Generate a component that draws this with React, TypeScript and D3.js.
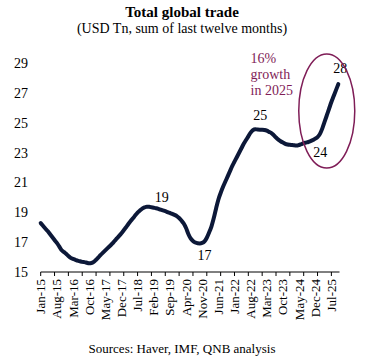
import React, { useEffect, useRef } from 'react';
import * as d3 from 'd3';

// trailing 12m sum of global trade, USD Tn, Jan-15 .. Oct-25
const trade2015 = [18.28, 18.10, 17.92, 17.75, 17.55, 17.35, 17.15, 16.95, 16.72, 16.48, 16.35, 16.22];
const trade2016 = [16.08, 15.95, 15.88, 15.82, 15.76, 15.72, 15.68, 15.66, 15.62, 15.58, 15.60, 15.68];
const trade2017 = [15.82, 15.98, 16.15, 16.30, 16.45, 16.60, 16.75, 16.90, 17.08, 17.25, 17.42, 17.60];
const trade2018 = [17.80, 18.00, 18.22, 18.42, 18.60, 18.80, 18.98, 19.12, 19.25, 19.33, 19.38, 19.37];
const trade2019 = [19.34, 19.31, 19.28, 19.24, 19.18, 19.13, 19.08, 19.02, 18.96, 18.90, 18.83, 18.75];
const trade2020 = [18.62, 18.45, 18.25, 17.95, 17.55, 17.25, 17.08, 16.98, 16.93, 16.92, 16.95, 17.05];
const trade2021 = [17.30, 17.65, 18.05, 18.60, 19.25, 19.85, 20.30, 20.70, 21.05, 21.40, 21.75, 22.10];
const trade2022 = [22.40, 22.70, 23.00, 23.30, 23.60, 23.85, 24.10, 24.35, 24.52, 24.58, 24.56, 24.55];
const trade2023 = [24.55, 24.53, 24.48, 24.40, 24.32, 24.18, 24.02, 23.88, 23.77, 23.68, 23.60, 23.55];
const trade2024 = [23.53, 23.52, 23.50, 23.48, 23.52, 23.58, 23.64, 23.68, 23.72, 23.78, 23.85, 23.95];
const trade2025 = [24.05, 24.25, 24.60, 25.05, 25.50, 25.95, 26.40, 26.80, 27.20, 27.60];

const monthNames = ['Jan', 'Feb', 'Mar', 'Apr', 'May', 'Jun', 'Jul', 'Aug', 'Sep', 'Oct', 'Nov', 'Dec'];
const yTicks = [15, 17, 19, 21, 23, 25, 27, 29];

// point labels: [month, text, dx, dy]
const callouts: [string, string, number, number][] = [
  ['May-19', '19', 1, -8],
  ['Sep-20', '17', 7, 17],
  ['Jan-23', '25', -2, -10],
  ['Dec-24', '24', 5, 18],
  ['Oct-25', '28', 2, -11],
];

const W = 365;
const H = 360;

function App() {
  const ref = useRef<SVGSVGElement>(null);

  useEffect(() => {
    const values = [
      ...trade2015, ...trade2016, ...trade2017, ...trade2018, ...trade2019, ...trade2020,
      ...trade2021, ...trade2022, ...trade2023, ...trade2024, ...trade2025,
    ];
    const months = values.map((_, i) => `${monthNames[i % 12]}-${15 + Math.floor(i / 12)}`);

    const svg = d3.select(ref.current);
    svg.selectAll('*').remove();

    const x = d3.scalePoint<string>().domain(months).range([40.7, 338.3]);
    const y = d3.scaleLinear().domain([15, 29]).range([272, 63.3]);

    svg.append('text')
      .attr('x', 182).attr('y', 17)
      .attr('text-anchor', 'middle')
      .attr('font-weight', 'bold')
      .attr('font-size', 15)
      .text('Total global trade');
    svg.append('text')
      .attr('x', 182).attr('y', 33)
      .attr('text-anchor', 'middle')
      .attr('font-size', 14)
      .text('(USD Tn, sum of last twelve months)');

    // y labels, no axis line
    svg.append('g').selectAll('text')
      .data(yTicks).enter().append('text')
      .attr('x', 28)
      .attr('y', d => y(d))
      .attr('dy', '0.35em')
      .attr('text-anchor', 'end')
      .attr('font-size', 14)
      .text(d => d);

    // x axis: ticks every 6 months, labels every 7
    const xAxis = svg.append('g');
    xAxis.append('line')
      .attr('x1', x(months[0])!).attr('x2', 339.5)
      .attr('y1', 272).attr('y2', 272)
      .attr('stroke', '#000').attr('stroke-width', 1);
    xAxis.selectAll('line.tick')
      .data(months.filter((_, i) => i % 6 === 0)).enter().append('line')
      .attr('class', 'tick')
      .attr('x1', d => x(d)!).attr('x2', d => x(d)!)
      .attr('y1', 272).attr('y2', 276)
      .attr('stroke', '#000');
    xAxis.selectAll('text')
      .data(months.filter((_, i) => i % 7 === 0)).enter().append('text')
      .attr('transform', d => `translate(${x(d)},279) rotate(-90)`)
      .attr('dy', '0.35em')
      .attr('text-anchor', 'end')
      .attr('font-size', 13)
      .text(d => d);

    const line = d3.line<number>()
      .x((_, i) => x(months[i])!)
      .y(d => y(d))
      .curve(d3.curveMonotoneX);

    svg.append('path')
      .datum(values)
      .attr('d', line)
      .attr('fill', 'none')
      .attr('stroke', '#0c1838')
      .attr('stroke-width', 4)
      .attr('stroke-linejoin', 'round')
      .attr('stroke-linecap', 'round');

    svg.append('g').selectAll('text')
      .data(callouts).enter().append('text')
      .attr('x', d => x(d[0])! + d[2])
      .attr('y', d => y(values[months.indexOf(d[0])]) + d[3])
      .attr('text-anchor', 'middle')
      .attr('font-size', 14)
      .text(d => d[1]);

    // highlight of 2025
    svg.append('ellipse')
      .attr('cx', x('May-25')!).attr('cy', 111)
      .attr('rx', 28).attr('ry', 57)
      .attr('fill', 'none')
      .attr('stroke', '#7f1d57')
      .attr('stroke-width', 1.5);

    const note = svg.append('text')
      .attr('x', 250.5).attr('y', 63)
      .attr('font-size', 14)
      .attr('fill', '#7f1d57');
    ['16%', 'growth', 'in 2025'].forEach((t, i) => {
      note.append('tspan').attr('x', 250.5).attr('dy', i === 0 ? 0 : 16).text(t);
    });

    svg.append('text')
      .attr('x', 182).attr('y', 353)
      .attr('text-anchor', 'middle')
      .attr('font-size', 13)
      .text('Sources: Haver, IMF, QNB analysis');
  }, []);

  return (
    <svg
      ref={ref}
      width={W}
      height={H}
      style={{ position: 'absolute', left: 0, top: 0, background: '#fff', fontFamily: '"Liberation Serif", "Times New Roman", serif' }}
    />
  );
}

export default App;
